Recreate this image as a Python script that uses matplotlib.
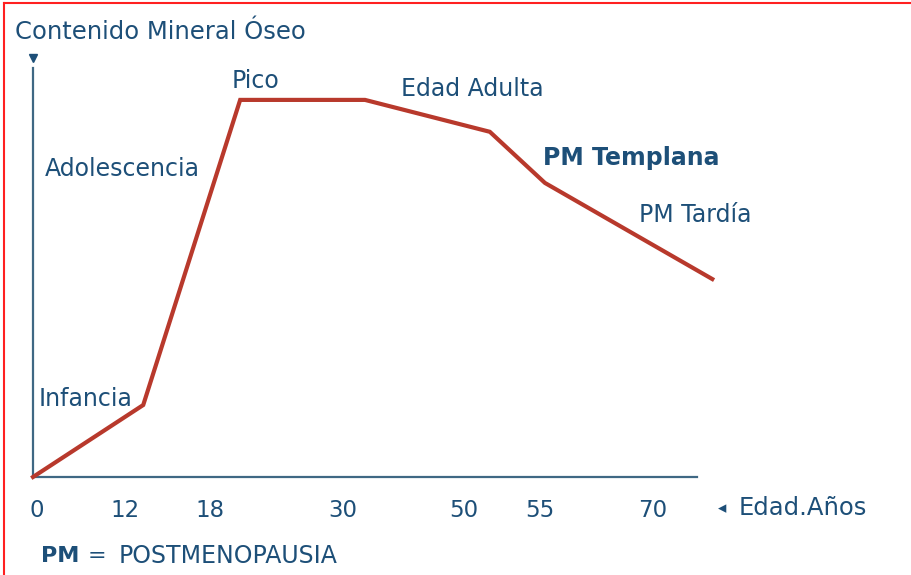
import matplotlib.pyplot as plt

# posiciones horizontales (eje no lineal) y contenido mineral relativo
curva_x = [0, 16.6, 31.2, 50.0, 68.8, 77.1, 102.3]
curva_y = [0, 17.6, 92.2, 92.2, 84.4, 71.9, 48.4]

edades = ['0', '12', '18', '30', '50', '55', '70']
edades_pos = [0.6, 13.9, 26.7, 46.7, 64.9, 76.4, 93.4]

etapas = ['Infancia', 'Adolescencia', 'Pico', 'Edad Adulta', 'PM Templana', 'PM Tardía']
etapas_x = [0.9, 1.8, 29.9, 55.4, 76.8, 91.2]
etapas_y = [19.1, 75.3, 96.8, 94.9, 78.0, 64.1]

azul = '#1d4f78'
rojo = '#b8392c'

fig = plt.figure(figsize=(9.12, 5.75), dpi=100)
ax = fig.add_axes([33/912, 98/575, 664/912, 409/575])
ax.set_xlim(0, 100)
ax.set_ylim(0, 100)

ax.plot(curva_x, curva_y, color=rojo, lw=3, clip_on=False, solid_joinstyle='miter', zorder=3)

for s in ['top', 'right']:
    ax.spines[s].set_visible(False)
for s in ['left', 'bottom']:
    ax.spines[s].set_color('#3f6884')
    ax.spines[s].set_linewidth(1.6)

ax.set_xticks(edades_pos)
ax.set_xticklabels(edades)
ax.tick_params(axis='x', length=0, pad=16, labelsize=16.5, labelcolor=azul)
ax.set_yticks([])

for txt, x, y in zip(etapas, etapas_x, etapas_y):
    ax.text(x, y, txt, color=azul, fontsize=17, ha='left', va='center',
            fontweight='bold' if txt == 'PM Templana' else 'normal')

# flecha en la parte superior del eje y
ax.plot([0], [102.5], marker='v', color=azul, ms=6, clip_on=False)

fig.text(15/912, 1 - 32/575, 'Contenido Mineral Óseo', color=azul, fontsize=17.5, va='center')
fig.text(718/912, 1 - 508/575, '◂', color=azul, fontsize=12, va='center')
fig.text(739/912, 1 - 508/575, 'Edad.Años', color=azul, fontsize=17.5, va='center')
fig.text(41/912, 1 - 556/575, 'PM', color=azul, fontsize=16, fontweight='bold', va='center')
fig.text(88/912, 1 - 556/575, '=', color=azul, fontsize=16, va='center')
fig.text(119/912, 1 - 556/575, 'POSTMENOPAUSIA', color=azul, fontsize=17, va='center')

# borde rojo (arriba e izquierda)
fig.add_artist(plt.Line2D([4/912, 4/912], [0, 1 - 3/575], color='#ff2020', lw=1.5))
fig.add_artist(plt.Line2D([4/912, 1], [1 - 3/575, 1 - 3/575], color='#ff2020', lw=1.5))

fig.savefig('out.png', dpi=100)
